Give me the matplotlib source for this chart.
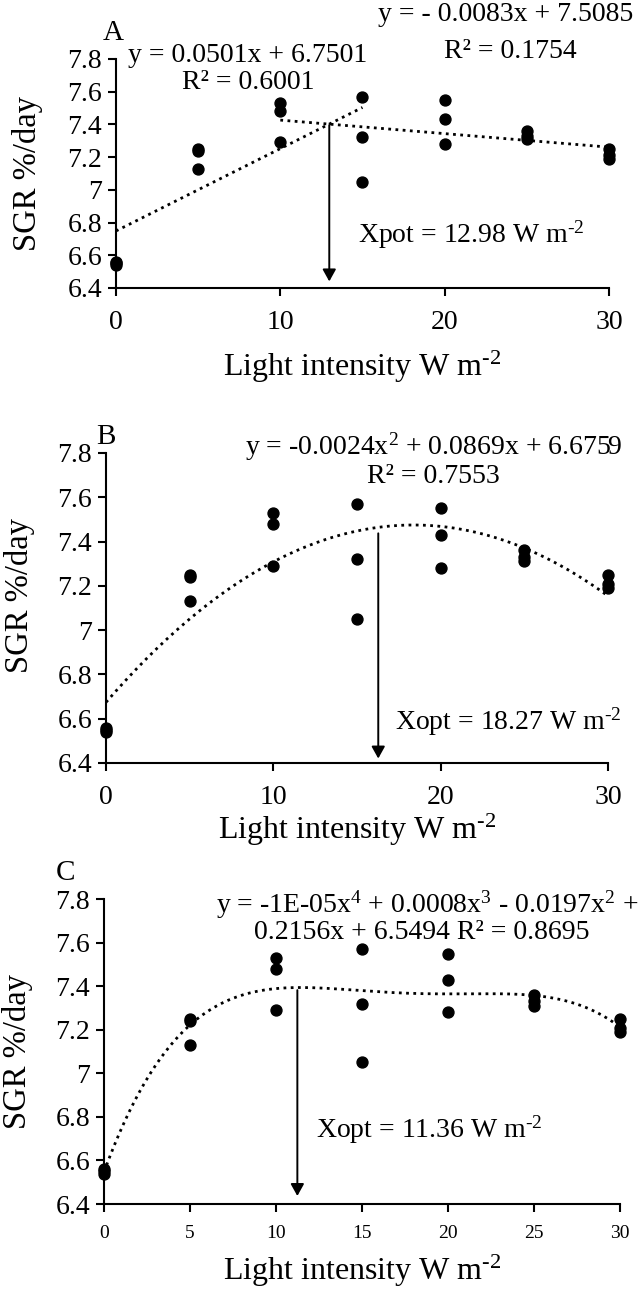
import matplotlib
matplotlib.use('Agg')
import matplotlib.pyplot as plt
import numpy as np

plt.rcParams['font.family'] = ['Liberation Serif', 'DejaVu Serif']
plt.rcParams['mathtext.fontset'] = 'custom'
plt.rcParams['mathtext.rm'] = 'Liberation Serif'
plt.rcParams['mathtext.it'] = 'Liberation Serif'

# Data (three replicates per light level)
light = [0, 0, 0, 5, 5, 5, 10, 10, 10, 15, 15, 15, 20, 20, 20, 25, 25, 25, 30, 30, 30]
sgr = [6.56, 6.55, 6.54, 7.25, 7.24, 7.13, 7.53, 7.48, 7.29, 7.57, 7.32, 7.05,
       7.55, 7.43, 7.28, 7.36, 7.33, 7.31, 7.25, 7.21, 7.19]

yticks = [6.4, 6.6, 6.8, 7.0, 7.2, 7.4, 7.6, 7.8]
ytick_labels = ['6.4', '6.6', '6.8', '7', '7.2', '7.4', '7.6', '7.8']

x = np.array(light)
y = np.array(sgr)

fig = plt.figure(figsize=(6.39, 12.89), dpi=100)
axA = fig.add_axes([0.1815, 0.7766, 0.7715, 0.1777])
axB = fig.add_axes([0.1659, 0.4081, 0.7856, 0.2405])
axC = fig.add_axes([0.1628, 0.0659, 0.8075, 0.2366])

dot = (0, (1, 1.6))
arrow = dict(arrowstyle='-|>,head_length=0.45,head_width=0.25', color='black', lw=1.4,
             mutation_scale=16, shrinkA=0, shrinkB=0)
sup = r'$^{\text{-2}}$'
xlab = 'Light intensity W m' + sup


def style(ax, xticks, xfs, xpad, ylab_x, ylab_y):
    ax.scatter(x, y, s=62, color='black', zorder=3, clip_on=False)
    ax.set_xlim(0, 30)
    ax.set_ylim(6.4, 7.8)
    ax.set_yticks(yticks)
    ax.set_yticklabels(ytick_labels, fontsize=20)
    ax.set_xticks(xticks)
    ax.set_xticklabels([str(t) for t in xticks], fontsize=xfs)
    for s in ['top', 'right']:
        ax.spines[s].set_visible(False)
    for s in ['left', 'bottom']:
        ax.spines[s].set_linewidth(1.5)
    ax.tick_params(direction='out', length=6, width=1.5)
    ax.tick_params(axis='y', pad=4)
    ax.tick_params(axis='x', pad=xpad)
    ax.set_ylabel('SGR %/day', fontsize=23.5)
    ax.yaxis.set_label_coords(ylab_x, ylab_y)


# Panel A - two linear segments
style(axA, [0, 10, 20, 30], 20, 10, -0.148, 0.50)
m1 = x <= 15
p1 = np.polyfit(x[m1], y[m1], 1)
xs1 = np.linspace(0, 15, 50)
axA.plot(xs1, np.polyval(p1, xs1), color='black', lw=2, ls=dot)
m2 = x >= 10
p2 = np.polyfit(x[m2], y[m2], 1)
xs2 = np.linspace(10, 30, 50)
axA.plot(xs2, np.polyval(p2, xs2), color='black', lw=2, ls=dot)
axA.annotate('', xy=(12.98, 6.44), xytext=(12.98, 7.396), arrowprops=arrow)
axA.text(-0.15, 7.96, 'A', fontsize=21, ha='center', va='center', clip_on=False)
axA.text(8.0, 7.818, 'y = 0.0501x + 6.7501', fontsize=20, ha='center', va='center')
axA.text(8.04, 7.653, 'R² = 0.6001', fontsize=20, ha='center', va='center')
axA.text(23.7, 8.069, 'y = - 0.0083x + 7.5085', fontsize=20, ha='center', va='center', clip_on=False)
axA.text(24.0, 7.845, 'R² = 0.1754', fontsize=20, ha='center', va='center', clip_on=False)
axA.text(14.7, 6.724, 'Xpot = 12.98 W m' + sup, fontsize=20, ha='left', va='center')
axA.set_xlabel(xlab, fontsize=23, labelpad=10)

# Panel B - quadratic
style(axB, [0, 10, 20, 30], 20, 10, -0.141, 0.54)
pB = np.polyfit(x, y, 2)
xsB = np.linspace(0, 30, 200)
axB.plot(xsB, np.polyval(pB, xsB), color='black', lw=2, ls=dot)
axB.annotate('', xy=(16.27, 6.42), xytext=(16.27, 7.437), arrowprops=arrow)
axB.text(-0.03, 7.874, 'B', fontsize=21, ha='center', va='center', clip_on=False)
axB.text(19.57, 7.828, r'y = -0.0024x$^{2}$ + 0.0869x + 6.6759', fontsize=20,
         ha='center', va='center', clip_on=False)
axB.text(19.57, 7.693, 'R² = 0.7553', fontsize=20, ha='center', va='center')
axB.text(17.26, 6.587, 'Xopt = 18.27 W m' + sup, fontsize=20, ha='left', va='center')
axB.set_xlabel(xlab, fontsize=23, labelpad=1)

# Panel C - 4th order polynomial
style(axC, [0, 5, 10, 15, 20, 25, 30], 14, 9, -0.138, 0.50)
pC = np.polyfit(x, y, 4)
xsC = np.linspace(0, 30, 200)
axC.plot(xsC, np.polyval(pC, xsC), color='black', lw=2, ls=dot)
axC.annotate('', xy=(11.24, 6.437), xytext=(11.24, 7.382), arrowprops=arrow)
axC.text(-2.24, 7.918, 'C', fontsize=21, ha='center', va='center', clip_on=False)
axC.text(18.8, 7.772, r'y = -1E-05x$^{4}$ + 0.0008x$^{3}$ - 0.0197x$^{2}$ +', fontsize=20,
         ha='center', va='center', clip_on=False)
axC.text(18.45, 7.645, '0.2156x + 6.5494 R² = 0.8695', fontsize=20, ha='center', va='center')
axC.text(12.3, 6.74, 'Xopt = 11.36 W m' + sup, fontsize=20, ha='left', va='center')
axC.set_xlabel(xlab, fontsize=23, labelpad=8)

plt.savefig('out.png', dpi=100, facecolor='white')
